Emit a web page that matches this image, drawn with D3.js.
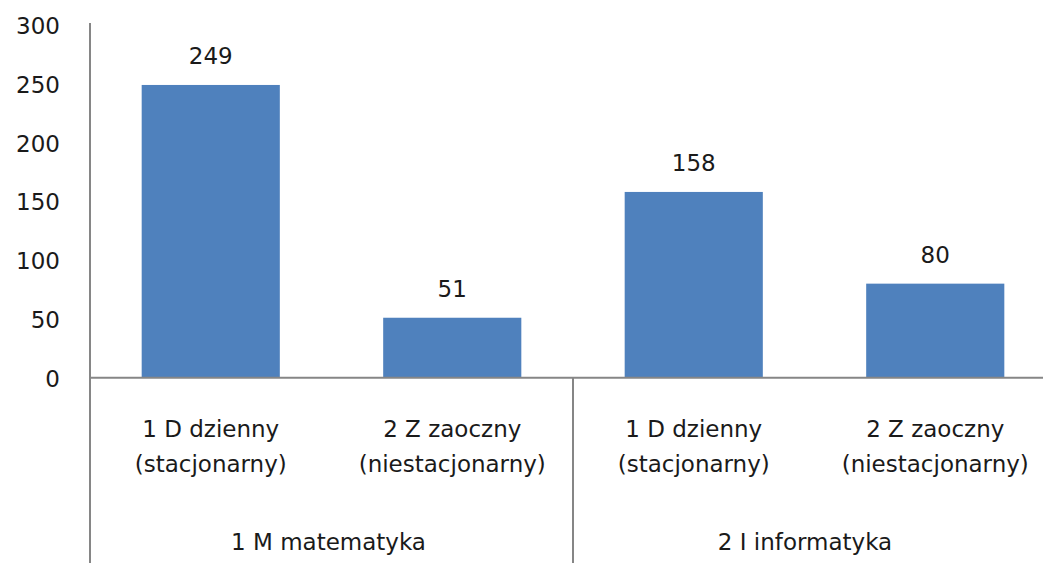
<!DOCTYPE html>
<html>
<head>
<meta charset="utf-8">
<script src="https://cdn.jsdelivr.net/npm/d3@7"></script>
<style>
  body { margin: 0; background: #fff; overflow: hidden; }
  svg { display: block; }
  text { font-family: "DejaVu Sans", sans-serif; font-size: 23px; fill: #1a1a1a; }
</style>
</head>
<body>
<svg id="chart" width="1043" height="563"></svg>
<script>
// Daten
const groups = ["1 M matematyka", "2 I informatyka"];
const categories = [
  ["1 D dzienny", "(stacjonarny)"],
  ["2 Z zaoczny", "(niestacjonarny)"],
  ["1 D dzienny", "(stacjonarny)"],
  ["2 Z zaoczny", "(niestacjonarny)"]
];
const categoryGroup = [0, 0, 1, 1];
const values = [249, 51, 158, 80];
const yTicks = [0, 50, 100, 150, 200, 250, 300];

const W = 1043, H = 563;
const left = 90, plotRight = 1056, zeroY = 377.7, topY = 25;

const svg = d3.select("#chart");

const x = d3.scaleBand()
  .domain(d3.range(values.length))
  .range([left, plotRight])
  .padding(0);

const y = d3.scaleLinear().domain([0, 300]).range([zeroY, topY]);

const barW = x.bandwidth() * 0.572;

// Balken
svg.selectAll("rect.bar")
  .data(values)
  .enter()
  .append("rect")
  .attr("class", "bar")
  .attr("x", (d, i) => x(i) + (x.bandwidth() - barW) / 2)
  .attr("y", d => y(d))
  .attr("width", barW)
  .attr("height", d => y(0) - y(d))
  .attr("fill", "#4f81bd");

// Werte über den Balken
svg.selectAll("text.value")
  .data(values)
  .enter()
  .append("text")
  .attr("class", "value")
  .attr("x", (d, i) => x(i) + x.bandwidth() / 2)
  .attr("y", d => y(d) - 21)
  .attr("text-anchor", "middle")
  .text(d => d);

// Y-Achse (nur Beschriftungen, Linie separat)
svg.selectAll("text.ytick")
  .data(yTicks)
  .enter()
  .append("text")
  .attr("class", "ytick")
  .attr("x", 60)
  .attr("y", d => y(d) + 9)
  .attr("text-anchor", "end")
  .text(d => d);

const axisColor = "#868686";

// Achsenlinien
svg.append("line")
  .attr("x1", left).attr("x2", left)
  .attr("y1", y(300) - 2).attr("y2", H)
  .attr("stroke", axisColor).attr("stroke-width", 2);

svg.append("line")
  .attr("x1", left).attr("x2", plotRight)
  .attr("y1", zeroY).attr("y2", zeroY)
  .attr("stroke", axisColor).attr("stroke-width", 2);

// Gruppentrenner
const groupBounds = groups.map((g, gi) => {
  const idx = categoryGroup.map((c, i) => c === gi ? i : -1).filter(i => i >= 0);
  return { name: g, x0: x(idx[0]), x1: x(idx[idx.length - 1]) + x.bandwidth() };
});

svg.selectAll("line.sep")
  .data(groupBounds.slice(1).map(g => g.x0).concat([plotRight]))
  .enter()
  .append("line")
  .attr("class", "sep")
  .attr("x1", d => d).attr("x2", d => d)
  .attr("y1", zeroY).attr("y2", H)
  .attr("stroke", axisColor).attr("stroke-width", 2);

// Kategoriebeschriftungen
const catLabels = svg.selectAll("text.cat")
  .data(categories)
  .enter()
  .append("text")
  .attr("class", "cat")
  .attr("text-anchor", "middle");

catLabels.selectAll("tspan")
  .data((d, i) => d.map(line => ({ line, i })))
  .enter()
  .append("tspan")
  .attr("x", d => x(d.i) + x.bandwidth() / 2)
  .attr("y", (d, j) => 437 + j * 35)
  .text(d => d.line);

// Gruppenbeschriftungen
svg.selectAll("text.group")
  .data(groupBounds)
  .enter()
  .append("text")
  .attr("class", "group")
  .attr("x", d => (d.x0 + Math.min(d.x1, W)) / 2 - 3)
  .attr("y", 550)
  .attr("text-anchor", "middle")
  .text(d => d.name);
</script>
</body>
</html>
